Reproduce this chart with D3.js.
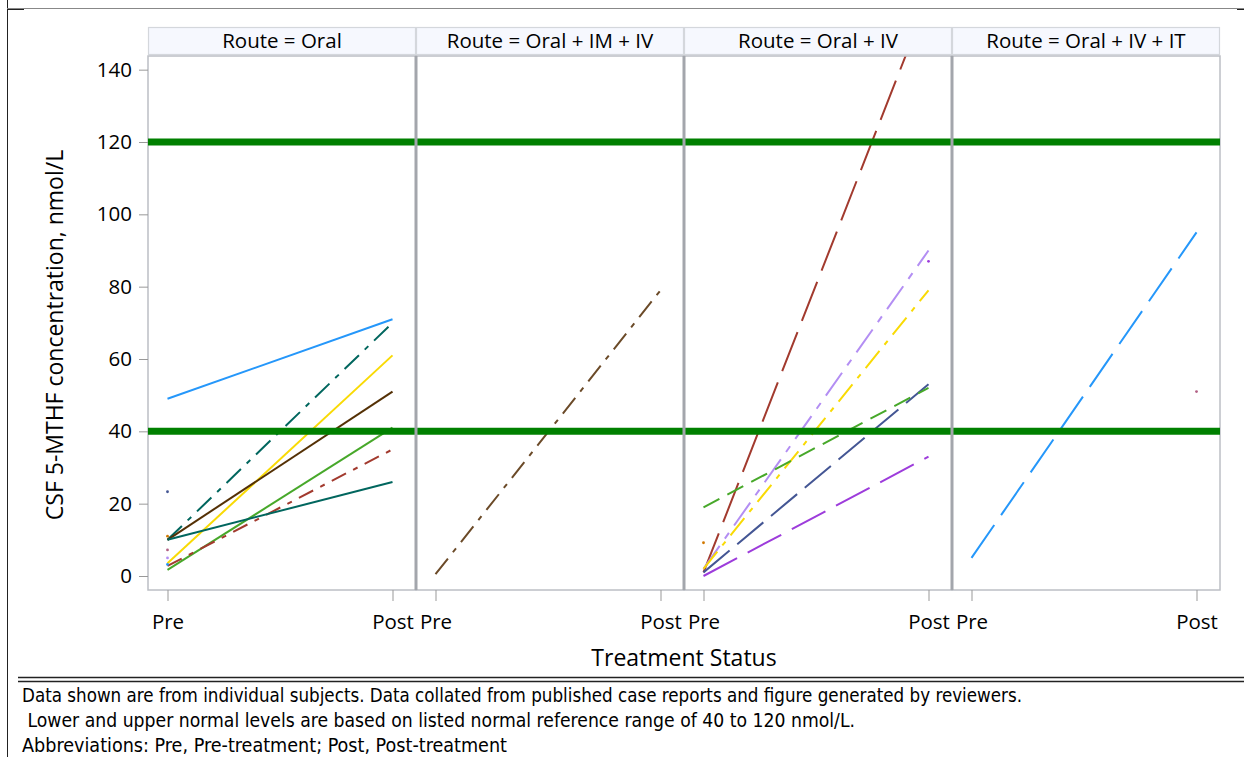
<!DOCTYPE html>
<html>
<head>
<meta charset="utf-8">
<script src="https://cdn.jsdelivr.net/npm/d3@7"></script>
<style>
  html, body { margin: 0; padding: 0; background: #fff; }
  svg { display: block; }
  text { font-family: "Open Sans", "Noto Sans", sans-serif; fill: #000; }
  .foot { font-family: "DejaVu Sans Condensed", "Liberation Sans Narrow", sans-serif; }
</style>
</head>
<body>
<svg id="chart" width="1244" height="757"></svg>
<script>
// Facets and x categories
const routes = ["Oral", "Oral + IM + IV", "Oral + IV", "Oral + IV + IT"];
const statuses = ["Pre", "Post"];
const yTicks = [0, 20, 40, 60, 80, 100, 120, 140];
const normalRange = [40, 120];

// Subjects with both pre- and post-treatment CSF 5-MTHF (nmol/L)
const lineRoute = ["Oral", "Oral", "Oral", "Oral", "Oral", "Oral", "Oral",
                   "Oral + IM + IV",
                   "Oral + IV", "Oral + IV", "Oral + IV", "Oral + IV", "Oral + IV", "Oral + IV",
                   "Oral + IV + IT"];
const preValues  = [49, 10, 3.5, 10, 1.7, 2.8, 10,   0.5,   1, 2, 2, 1, 19, 0,   5];
const postValues = [71, 70, 61, 51, 41, 35, 26,      79,    160, 90, 79, 53, 52, 33,   95];
const lineColors = ["#2597FA", "#01665E", "#F9DA04", "#543005", "#47A82A", "#A23A2E", "#01665E",
                    "#6b4a28",
                    "#A23A2E", "#B38EF3", "#F9DA04", "#445694", "#47A82A", "#9D3CDB",
                    "#2597FA"];
const lineDashes = [null, "20,8,5,8", null, null, null, "16,8,5,8", null,
                    "20,8,5,8",
                    "42,12", "28,9,7,9", "22,8,5,8", "34,10", "18,9", "38,12",
                    "40,12"];

// Subjects with a single measurement
const pointRoute  = ["Oral", "Oral", "Oral", "Oral", "Oral", "Oral + IV", "Oral + IV", "Oral + IV + IT"];
const pointStatus = ["Pre", "Pre", "Pre", "Pre", "Pre", "Pre", "Post", "Post"];
const pointValues = [23.3, 11, 7.2, 5, 3.2, 9.2, 87, 51];
const pointColors = ["#445694", "#D17800", "#B26084", "#B38EF3", "#2597FA", "#D17800", "#9D3CDB", "#B26084"];

const footnotes = [
  "Data shown are from individual subjects. Data collated from published case reports and figure generated by reviewers.",
  " Lower and upper normal levels are based on listed normal reference range of 40 to 120 nmol/L.",
  "Abbreviations: Pre, Pre-treatment; Post, Post-treatment"
];

const svg = d3.select("#chart");

// Layout
const plotLeft = 148, plotRight = 1220, plotTop = 56, plotBottom = 590;
const headerTop = 27, headerBottom = 54;
const labelFont = 20.5;

const fx = d3.scaleBand().domain(routes).range([plotLeft, plotRight]).paddingInner(0).paddingOuter(0);
const pw = fx.bandwidth();
const x = d3.scalePoint().domain(statuses).range([19.5, pw - 23.5]);
const y = d3.scaleLinear().domain([0, 120]).range([576, 142]);

// Outer frame
svg.append("line").attr("x1", 7.5).attr("x2", 7.5).attr("y1", 0).attr("y2", 757)
  .attr("stroke", "#222").attr("stroke-width", 1);
svg.append("line").attr("x1", 7).attr("x2", 1244).attr("y1", 8.5).attr("y2", 8.5)
  .attr("stroke", "#888").attr("stroke-width", 1);
svg.append("line").attr("x1", 7).attr("x2", 24).attr("y1", 9.5).attr("y2", 9.5)
  .attr("stroke", "#222").attr("stroke-width", 1);
svg.append("line").attr("x1", 1237).attr("x2", 1244).attr("y1", 9.5).attr("y2", 9.5)
  .attr("stroke", "#222").attr("stroke-width", 1);
[677.5, 681.5].forEach(yy => {
  svg.append("line").attr("x1", 18).attr("x2", 1244).attr("y1", yy).attr("y2", yy)
    .attr("stroke", "#222").attr("stroke-width", 1.4);
});

// Panel backgrounds and headers
const panels = svg.selectAll("g.panel").data(routes).join("g")
  .attr("class", "panel")
  .attr("transform", d => `translate(${fx(d)},0)`);

panels.append("rect")
  .attr("x", 0).attr("y", plotTop).attr("width", pw).attr("height", plotBottom - plotTop)
  .attr("fill", "#fff");

panels.append("rect")
  .attr("x", 0.5).attr("y", headerTop + 0.5).attr("width", pw - 1).attr("height", headerBottom - headerTop)
  .attr("fill", "#f6f8fe").attr("stroke", "#d4d7dc").attr("stroke-width", 1.2);

panels.append("text")
  .attr("x", pw / 2).attr("y", headerTop + 21)
  .attr("text-anchor", "middle").attr("font-size", labelFont)
  .text(d => `Route = ${d}`);

// Clip regions for each panel
const defs = svg.append("defs");
routes.forEach((r, i) => {
  defs.append("clipPath").attr("id", `clip${i}`)
    .append("rect").attr("x", 0).attr("y", plotTop).attr("width", pw).attr("height", plotBottom - plotTop);
});

// Normal reference lines
normalRange.forEach(v => {
  svg.append("line")
    .attr("x1", plotLeft).attr("x2", plotRight)
    .attr("y1", y(v)).attr("y2", y(v))
    .attr("stroke", "#008000").attr("stroke-width", 7);
});

// Subject lines
const subjects = preValues.map((p, i) => ({
  route: lineRoute[i], pre: p, post: postValues[i], color: lineColors[i], dash: lineDashes[i]
}));

panels.each(function (route, pi) {
  const g = d3.select(this).append("g").attr("clip-path", `url(#clip${pi})`);
  subjects.filter(s => s.route === route).forEach(s => {
    g.append("line")
      .attr("x1", x("Pre")).attr("y1", y(s.pre))
      .attr("x2", x("Post")).attr("y2", y(s.post))
      .attr("stroke", s.color).attr("stroke-width", 2)
      .attr("stroke-dasharray", s.dash);
  });
  pointValues.forEach((v, i) => {
    if (pointRoute[i] !== route) return;
    g.append("circle")
      .attr("cx", x(pointStatus[i])).attr("cy", y(v)).attr("r", 1.4)
      .attr("fill", pointColors[i]);
  });
});

// Panel borders and separators
panels.append("rect")
  .attr("x", 0).attr("y", plotTop).attr("width", pw).attr("height", plotBottom - plotTop)
  .attr("fill", "none").attr("stroke", "#bcbfc5").attr("stroke-width", 1.5);
routes.slice(1).forEach(r => {
  svg.append("line")
    .attr("x1", fx(r)).attr("x2", fx(r)).attr("y1", plotTop).attr("y2", plotBottom)
    .attr("stroke", "#a3a6ac").attr("stroke-width", 3);
});

// Y axis
const yAxis = svg.append("g").attr("transform", `translate(${plotLeft},0)`)
  .call(d3.axisLeft(y).tickValues(yTicks).tickSize(9).tickPadding(7).tickFormat(d3.format("d")));
yAxis.select(".domain").remove();
yAxis.selectAll(".tick line").attr("stroke", "#999");
yAxis.selectAll(".tick text").attr("font-size", labelFont).attr("font-family", "'Open Sans', 'Noto Sans', sans-serif").attr("fill", "#000");

// X axes, one per panel
panels.each(function () {
  const ax = d3.select(this).append("g").attr("transform", `translate(0,${plotBottom})`)
    .call(d3.axisBottom(x).tickSize(11).tickPadding(13));
  ax.select(".domain").remove();
  ax.selectAll(".tick line").attr("stroke", "#999");
  ax.selectAll(".tick text").attr("font-size", labelFont).attr("font-family", "'Open Sans', 'Noto Sans', sans-serif").attr("fill", "#000");
});

// Axis titles
svg.append("text")
  .attr("transform", "translate(63,335) rotate(-90)")
  .attr("text-anchor", "middle").attr("font-size", 23)
  .text("CSF 5-MTHF concentration, nmol/L");
svg.append("text")
  .attr("x", (plotLeft + plotRight) / 2).attr("y", 666)
  .attr("text-anchor", "middle").attr("font-size", 23)
  .text("Treatment Status");

// Footnotes
const footWidths = [1000, 833, 485];
footnotes.forEach((t, i) => {
  svg.append("text").attr("class", "foot")
    .attr("x", 22).attr("y", 702 + i * 25)
    .attr("font-size", 19)
    .attr("textLength", footWidths[i]).attr("lengthAdjust", "spacingAndGlyphs")
    .attr("xml:space", "preserve")
    .text(t);
});
</script>
</body>
</html>
